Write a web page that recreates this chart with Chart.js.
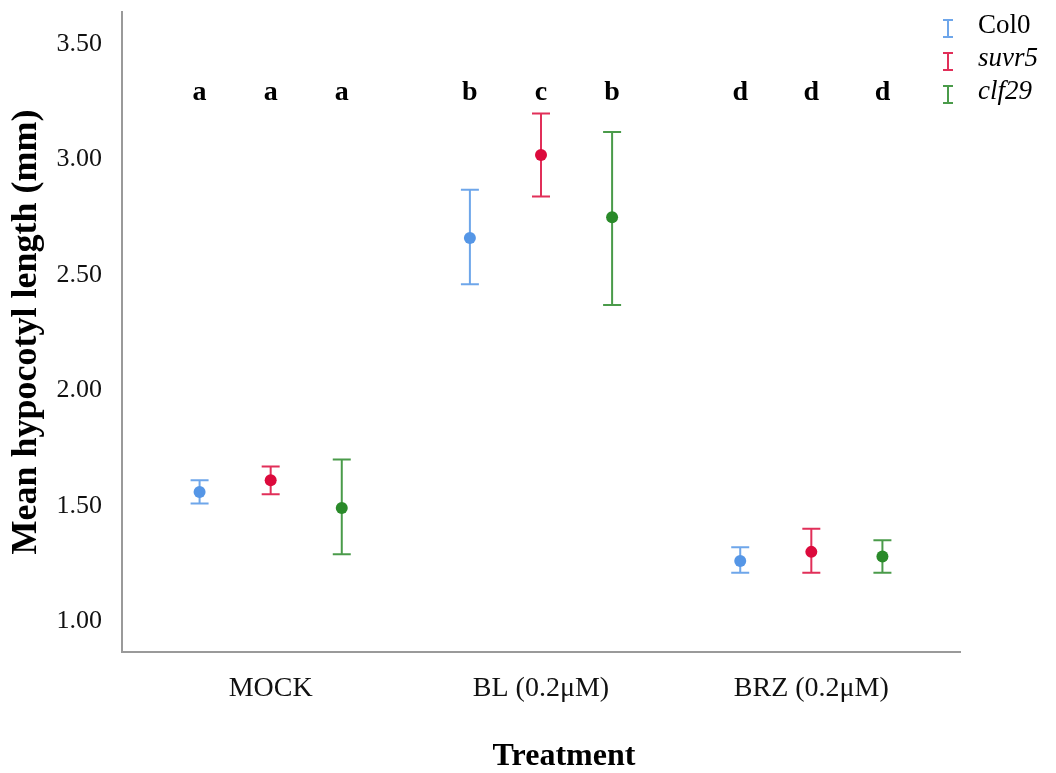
<!DOCTYPE html>
<html lang="en">
<head>
    <meta charset="UTF-8">
    <title>Mean hypocotyl length</title>
    <script src="https://cdn.jsdelivr.net/npm/chart.js"></script>
    <style>
        body { margin: 0; background: #fff; }
        #wrap { width: 1056px; height: 773px; }
    </style>
</head>
<body>
    <div id="wrap"><canvas id="chart"></canvas></div>
    <script>
        // data
        const categories = ['MOCK', 'BL (0.2μM)', 'BRZ (0.2μM)'];
        const yTicks = [1.0, 1.5, 2.0, 2.5, 3.0, 3.5];

        const col0Mean = [1.56, 2.66, 1.26];
        const col0Low = [1.51, 2.46, 1.21];
        const col0High = [1.61, 2.87, 1.32];
        const col0Letters = ['a', 'b', 'd'];

        const suvr5Mean = [1.61, 3.02, 1.30];
        const suvr5Low = [1.55, 2.84, 1.21];
        const suvr5High = [1.67, 3.20, 1.40];
        const suvr5Letters = ['a', 'c', 'd'];

        const clf29Mean = [1.49, 2.75, 1.28];
        const clf29Low = [1.29, 2.37, 1.21];
        const clf29High = [1.70, 3.12, 1.35];
        const clf29Letters = ['a', 'b', 'd'];

        const serif = "'Liberation Serif', 'Times New Roman', serif";
        const groupOffset = [-0.263, 0, 0.263];

        function makeSet(label, italic, color, barColor, mean, low, high, letters, k) {
            return {
                label: label,
                italic: italic,
                data: mean.map((v, i) => ({ x: i + 1 + groupOffset[k], y: v })),
                low: low,
                high: high,
                letters: letters,
                barColor: barColor,
                backgroundColor: color,
                borderColor: color,
                pointRadius: 6,
                pointBorderWidth: 0,
                showLine: false
            };
        }

        const datasets = [
            makeSet('Col0', false, '#5596e6', 'rgba(85,150,230,0.85)', col0Mean, col0Low, col0High, col0Letters, 0),
            makeSet('suvr5', true, '#dc0a3c', 'rgba(220,10,60,0.85)', suvr5Mean, suvr5Low, suvr5High, suvr5Letters, 1),
            makeSet('clf29', true, '#2a8a2a', 'rgba(42,138,42,0.85)', clf29Mean, clf29Low, clf29High, clf29Letters, 2)
        ];

        // error bars under the points, letters, legend, x title
        const extras = {
            id: 'extras',
            beforeDatasetsDraw(chart) {
                const ctx = chart.ctx;
                const xs = chart.scales.x, ys = chart.scales.y;
                ctx.save();
                chart.data.datasets.forEach(ds => {
                    ctx.strokeStyle = ds.barColor;
                    ctx.lineWidth = 2;
                    ds.data.forEach((p, i) => {
                        const px = xs.getPixelForValue(p.x);
                        const top = ys.getPixelForValue(ds.high[i]);
                        const bot = ys.getPixelForValue(ds.low[i]);
                        ctx.beginPath();
                        ctx.moveTo(px, top); ctx.lineTo(px, bot);
                        ctx.moveTo(px - 9, top); ctx.lineTo(px + 9, top);
                        ctx.moveTo(px - 9, bot); ctx.lineTo(px + 9, bot);
                        ctx.stroke();
                    });
                });
                ctx.restore();
            },
            afterDraw(chart) {
                const ctx = chart.ctx;
                const xs = chart.scales.x, ys = chart.scales.y;
                ctx.save();
                // significance letters
                ctx.fillStyle = '#000';
                ctx.font = 'bold 28px ' + serif;
                ctx.textAlign = 'center';
                ctx.textBaseline = 'middle';
                chart.data.datasets.forEach(ds => {
                    ds.data.forEach((p, i) => {
                        ctx.fillText(ds.letters[i], xs.getPixelForValue(p.x), ys.getPixelForValue(3.29));
                    });
                });
                // x axis title
                ctx.font = 'bold 32px ' + serif;
                ctx.fillText('Treatment', 564, 757);
                // legend
                ctx.textAlign = 'left';
                chart.data.datasets.forEach((ds, k) => {
                    const cy = 26 + k * 33;
                    const ix = chart.width - 108;
                    ctx.strokeStyle = ds.barColor;
                    ctx.lineWidth = 2;
                    ctx.beginPath();
                    ctx.moveTo(ix, cy - 6); ctx.lineTo(ix, cy + 11);
                    ctx.moveTo(ix - 5, cy - 6); ctx.lineTo(ix + 5, cy - 6);
                    ctx.moveTo(ix - 5, cy + 11); ctx.lineTo(ix + 5, cy + 11);
                    ctx.stroke();
                    ctx.fillStyle = '#000';
                    ctx.font = (ds.italic ? 'italic ' : '') + '27px ' + serif;
                    ctx.fillText(ds.label, chart.width - 78, cy);
                });
                ctx.restore();
            }
        };

        new Chart(document.getElementById('chart'), {
            type: 'scatter',
            data: { datasets: datasets },
            plugins: [extras],
            options: {
                responsive: true,
                maintainAspectRatio: false,
                animation: false,
                layout: { padding: { top: 12, right: 96, left: 0, bottom: 0 } },
                plugins: {
                    legend: { display: false },
                    tooltip: { enabled: false }
                },
                scales: {
                    x: {
                        type: 'linear',
                        min: 0.45,
                        max: 3.55,
                        grid: { display: false, drawTicks: false },
                        border: { color: '#9a9a9a', width: 2 },
                        afterBuildTicks: s => { s.ticks = [1, 2, 3].map(v => ({ value: v })); },
                        afterFit: s => { s.height = 121; s.paddingLeft = 0; s.paddingRight = 0; },
                        ticks: {
                            padding: 20,
                            color: '#111',
                            font: { family: serif, size: 28 },
                            callback: v => categories[v - 1]
                        }
                    },
                    y: {
                        min: 0.866,
                        max: 3.64,
                        grid: { display: false, drawTicks: false },
                        border: { color: '#9a9a9a', width: 2 },
                        afterBuildTicks: s => { s.ticks = yTicks.map(v => ({ value: v })); },
                        afterFit: s => { s.width = 122; s.paddingTop = 0; s.paddingBottom = 0; },
                        ticks: {
                            padding: 20,
                            color: '#111',
                            font: { family: serif, size: 26 },
                            callback: v => v.toFixed(2)
                        },
                        title: {
                            display: true,
                            text: 'Mean hypocotyl length (mm)',
                            color: '#000',
                            padding: { top: 5, bottom: 0 },
                            font: { family: serif, size: 36, weight: 'bold' }
                        }
                    }
                }
            }
        });
    </script>
</body>
</html>
